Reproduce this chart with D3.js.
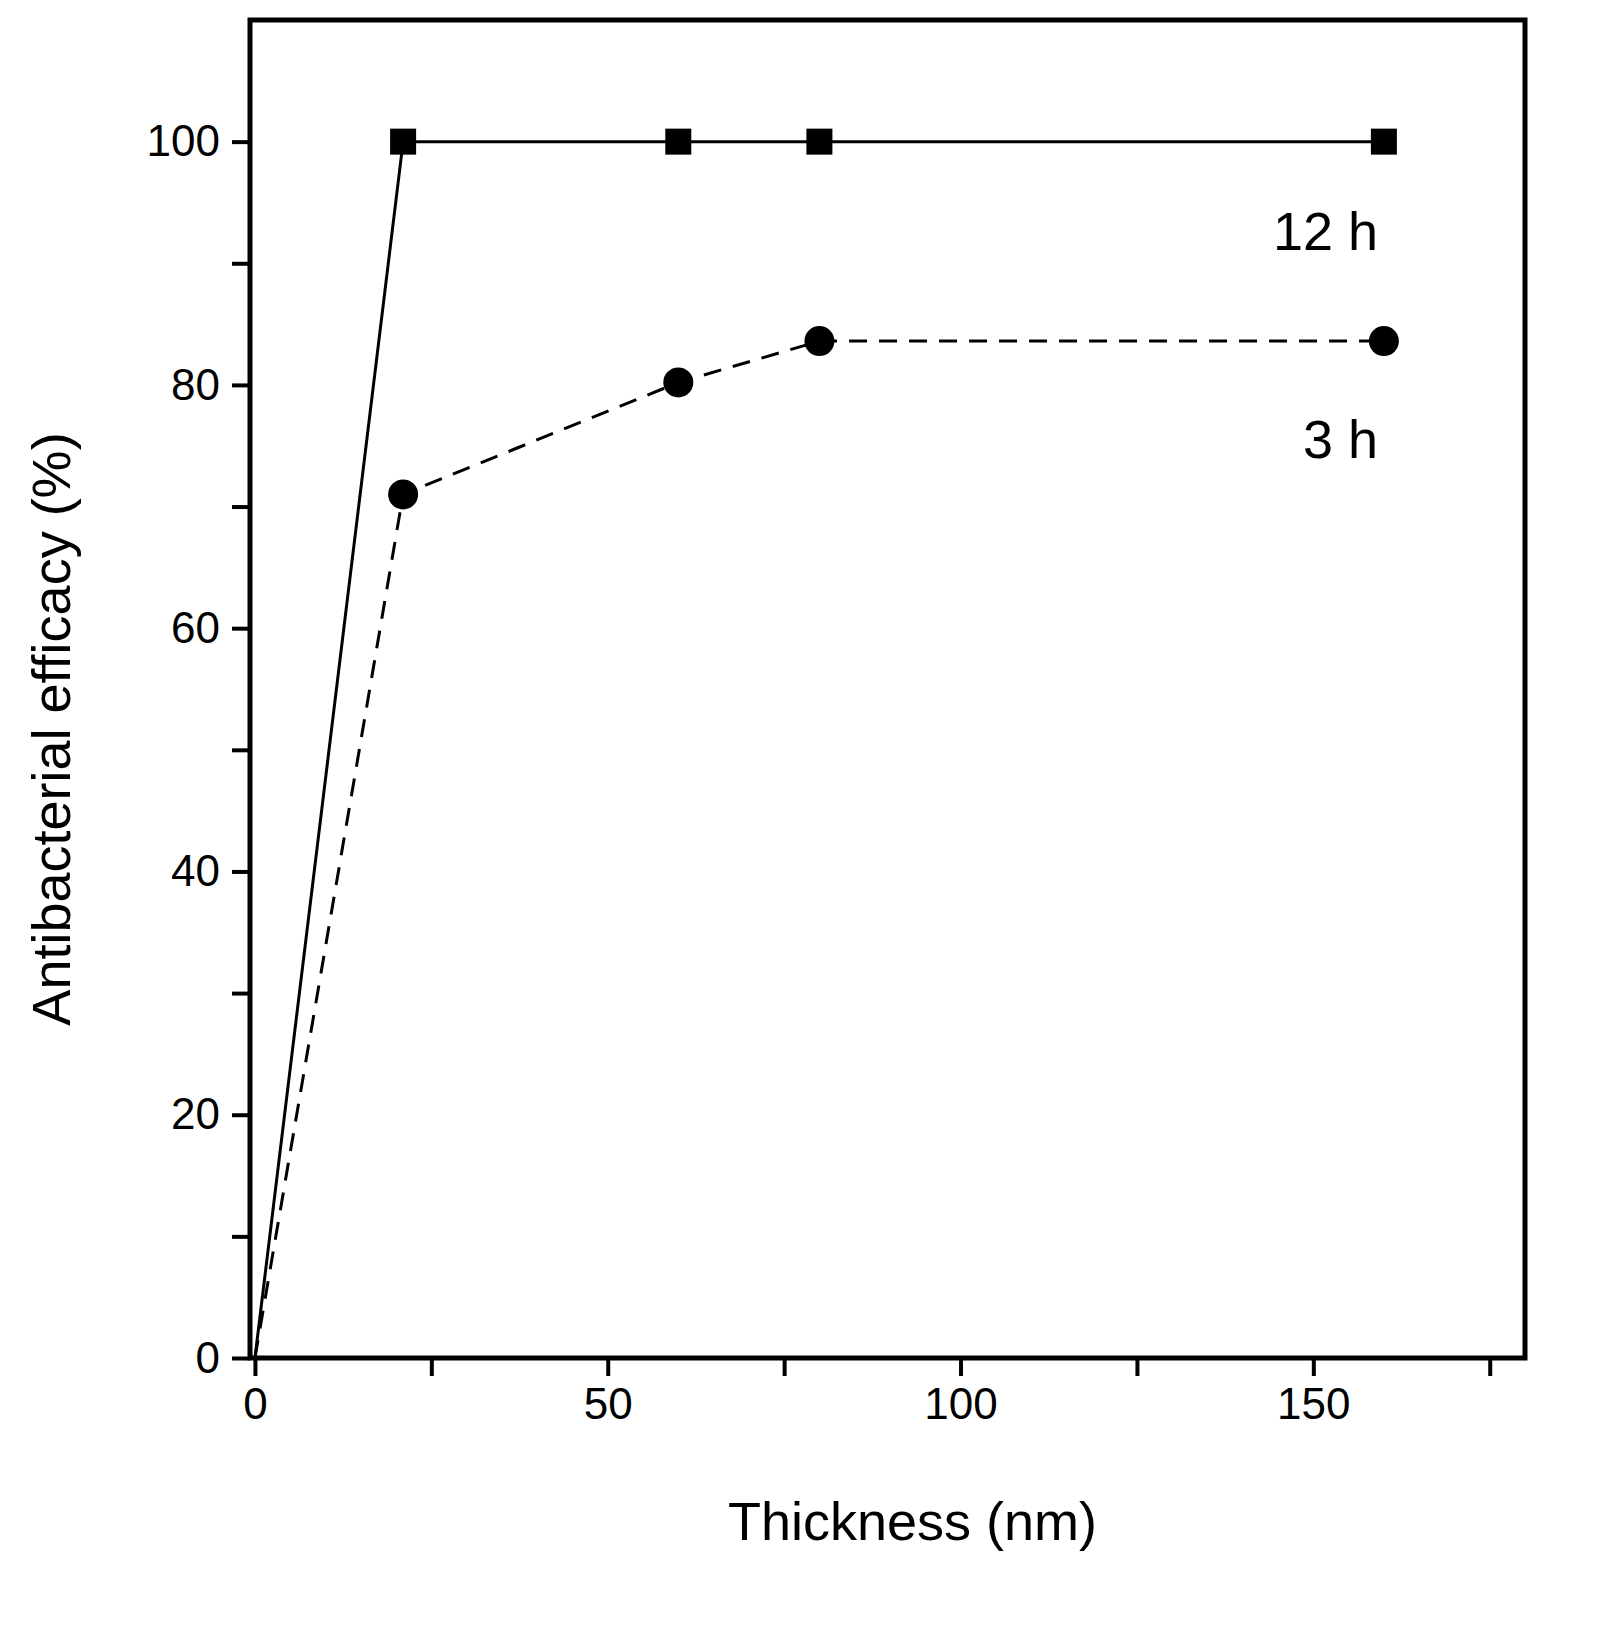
<!DOCTYPE html>
<html><head><meta charset="utf-8">
<script src="https://cdn.jsdelivr.net/npm/d3@7"></script>
<style>body{margin:0;background:#fff}</style>
</head><body>
<svg id="chart" width="1611" height="1633"></svg>
<script>
var thickness = [0, 21, 60, 80, 160]
var eff12h = [0, 100, 100, 100, 100]
var eff3h = [0, 71, 80.2, 83.6, 83.6]
var xTicks = [0, 50, 100, 150]
var yTicks = [0, 20, 40, 60, 80, 100]

var svg = d3.select('#chart')
var plotLeft = 250, plotRight = 1525, plotTop = 20, plotBottom = 1358

var x = d3.scaleLinear().domain([-0.7, 180]).range([plotLeft, plotRight])
var y = d3.scaleLinear().domain([0, 110]).range([plotBottom, plotTop])

var font = 'Arial, "Liberation Sans", sans-serif'

// axes with major + minor ticks
svg.append('g').attr('transform', 'translate(0,' + plotBottom + ')')
  .call(d3.axisBottom(x).tickValues(xTicks).tickSize(18).tickPadding(12))
svg.append('g').attr('transform', 'translate(0,' + plotBottom + ')')
  .call(d3.axisBottom(x).tickValues([25, 75, 125, 175]).tickSize(18).tickFormat(''))
svg.append('g').attr('transform', 'translate(' + plotLeft + ',0)')
  .call(d3.axisLeft(y).tickValues(yTicks).tickSize(18).tickPadding(12))
svg.append('g').attr('transform', 'translate(' + plotLeft + ',0)')
  .call(d3.axisLeft(y).tickValues([10, 30, 50, 70, 90]).tickSize(18).tickFormat(''))

svg.selectAll('.domain').remove()
svg.selectAll('.tick line').attr('stroke', '#000').attr('stroke-width', 4)
svg.selectAll('.tick text').attr('font-family', font).attr('font-size', 44).attr('fill', '#000')

svg.append('rect').attr('x', plotLeft).attr('y', plotTop)
  .attr('width', plotRight - plotLeft).attr('height', plotBottom - plotTop)
  .attr('fill', 'none').attr('stroke', '#000').attr('stroke-width', 5)

var pts12 = thickness.map(function (t, i) { return [t, eff12h[i]] })
var pts3 = thickness.map(function (t, i) { return [t, eff3h[i]] })
var line = d3.line().x(function (d) { return x(d[0]) }).y(function (d) { return y(d[1]) })

svg.append('path').attr('d', line(pts12)).attr('fill', 'none').attr('stroke', '#000').attr('stroke-width', 3)
svg.append('path').attr('d', line(pts3)).attr('fill', 'none').attr('stroke', '#000').attr('stroke-width', 3)
  .attr('stroke-dasharray', '18,12')

svg.selectAll('.sq').data(pts12.slice(1)).enter().append('rect')
  .attr('x', function (d) { return x(d[0]) - 13 }).attr('y', function (d) { return y(d[1]) - 13 })
  .attr('width', 26).attr('height', 26).attr('fill', '#000')
svg.selectAll('.ci').data(pts3.slice(1)).enter().append('circle')
  .attr('cx', function (d) { return x(d[0]) }).attr('cy', function (d) { return y(d[1]) })
  .attr('r', 15).attr('fill', '#000')

svg.append('text').attr('x', 1378).attr('y', 250).attr('text-anchor', 'end')
  .attr('font-family', font).attr('font-size', 54).text('12 h')
svg.append('text').attr('x', 1378).attr('y', 458).attr('text-anchor', 'end')
  .attr('font-family', font).attr('font-size', 54).text('3 h')

svg.append('text').attr('x', (plotLeft + plotRight) / 2 + 25).attr('y', 1540).attr('text-anchor', 'middle')
  .attr('font-family', font).attr('font-size', 54).text('Thickness (nm)')
svg.append('text').attr('transform', 'translate(70,' + ((plotTop + plotBottom) / 2 + 40) + ') rotate(-90)')
  .attr('text-anchor', 'middle').attr('font-family', font).attr('font-size', 54)
  .text('Antibacterial efficacy (%)')
</script>
</body></html>
